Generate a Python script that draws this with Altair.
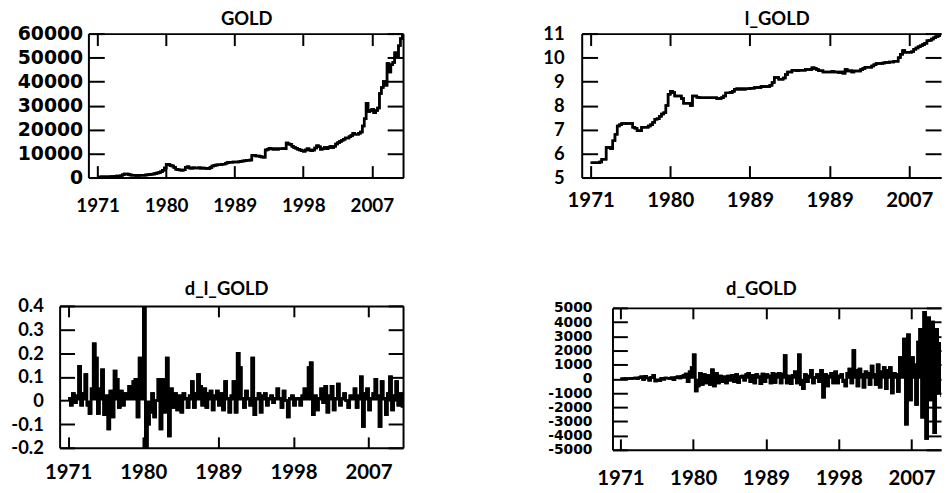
import altair as alt
import pandas as pd

# ---------------- data (quarterly observations, 1971Q1 .. 2011Q1) ----------------
START_YEAR = 1971.0
STEP = 0.25

gold = [
    270, 280, 290, 300, 320, 340, 380, 420, 450, 500, 600, 650,
    800, 1200, 1500, 1450, 1300, 1100, 1000, 950, 900, 850, 950, 1000,
    1000, 1100, 1200, 1300, 1400, 1500, 1700, 1900, 2100, 2400, 3000, 4000,
    5600, 5400, 5000, 4800, 4200, 3500, 3300, 3100, 3000, 3200, 4300, 4500,
    4000, 3900, 4100, 4000, 4000, 4100, 3900, 4000, 3900, 3800, 3800, 4200,
    4800, 5000, 5200, 5300, 5300, 5500, 5600, 6000, 6300, 6400, 6400, 6500,
    6500, 6500, 6600, 6800, 6900, 7000, 7200, 7200, 7300, 9300, 9300, 9000,
    9000, 8800, 8600, 8500, 11500, 11800, 12200, 12000, 11800, 12000, 11800, 12000,
    12000, 12100, 12000, 14400, 14000, 13800, 13000, 12500, 12200, 11800, 11500, 11200,
    11000, 11500, 12000, 11500, 11200, 11500, 12300, 13300, 12800, 11800, 12000, 12500,
    12000, 12500, 13000, 12500, 13000, 14000, 14500, 15000, 15500, 16000, 16500, 16500,
    17000, 17500, 18500, 18000, 18000, 18500, 19000, 21500, 24500, 31000, 27500, 28000,
    28500, 27000, 28000, 29000, 35000, 37500, 40000, 38500, 47500, 44000, 47000, 48000,
    52000, 50500, 55000, 58000, 60000,
]

l_gold = [
    5.62, 5.62, 5.62, 5.62, 5.65, 5.76, 5.76, 6.25, 6.25, 6.2, 6.53, 6.8,
    7.15, 7.2, 7.25, 7.25, 7.25, 7.25, 7.25, 7.1, 7.05, 6.95, 6.95, 7.1,
    7.1, 7.1, 7.15, 7.2, 7.3, 7.43, 7.45, 7.55, 7.65, 7.7, 8.0, 8.47,
    8.6, 8.55, 8.4, 8.4, 8.4, 8.3, 8.1, 8.1, 8.1, 8.0, 8.4, 8.4,
    8.35, 8.33, 8.33, 8.33, 8.33, 8.33, 8.33, 8.33, 8.33, 8.3, 8.3, 8.33,
    8.4, 8.53, 8.53, 8.55, 8.6, 8.68, 8.7, 8.68, 8.7, 8.68, 8.7, 8.7,
    8.72, 8.72, 8.75, 8.75, 8.75, 8.8, 8.78, 8.8, 8.8, 8.85, 8.96, 9.17,
    9.17, 9.1, 9.1, 9.15, 9.3, 9.4, 9.4, 9.47, 9.47, 9.45, 9.47, 9.47,
    9.47, 9.5, 9.5, 9.5, 9.58, 9.55, 9.5, 9.45, 9.45, 9.4, 9.4, 9.4,
    9.4, 9.42, 9.4, 9.4, 9.38, 9.4, 9.35, 9.5, 9.44, 9.45, 9.4, 9.44,
    9.44, 9.44, 9.5, 9.55, 9.6, 9.6, 9.6, 9.65, 9.7, 9.75, 9.75, 9.75,
    9.78, 9.8, 9.8, 9.82, 9.82, 9.85, 9.85, 10.0, 10.14, 10.3, 10.22, 10.22,
    10.22, 10.25, 10.35, 10.4, 10.45, 10.5, 10.55, 10.6, 10.7, 10.72, 10.78, 10.83,
    10.88, 10.92, 10.94, 10.97, 11.0,
]

d_l_gold = [
    0.01, -0.02, 0.03, -0.01, 0.02, 0.145, -0.02, 0.03, 0.11, -0.02, -0.055, 0.05,
    0.24, 0.18, -0.055, 0.05, 0.13, -0.06, 0.02, -0.12, 0.04, -0.07, 0.125, 0.09,
    -0.03, 0.04, -0.02, 0.03, 0.01, 0.06, 0.02, 0.08, 0.09, -0.07, 0.18, 0.15,
    0.42, -0.195, -0.1, -0.05, 0.03, -0.07, 0.0, 0.09, -0.12, 0.09, -0.05, 0.18,
    -0.15, 0.05, -0.03, 0.03, -0.04, 0.02, -0.05, 0.03, 0.01, -0.03, 0.02, 0.08,
    -0.03, 0.03, 0.11, 0.06, -0.02, 0.05, -0.03, 0.03, 0.04, -0.04, 0.02, 0.04,
    -0.02, 0.03, -0.04, 0.08, 0.01, -0.05, 0.02, 0.08, -0.05, 0.2, 0.14, 0.01,
    -0.03, 0.04, 0.01, -0.02, 0.18, -0.06, 0.01, 0.03, -0.05, 0.02, 0.03, -0.02,
    0.01, 0.02, -0.01, 0.01, 0.05, 0.01, -0.03, 0.04, 0.0, -0.07, 0.01, 0.02,
    -0.02, 0.01, 0.01, -0.02, 0.02, 0.05, 0.02, 0.14, 0.16, -0.06, 0.02, -0.04,
    0.01, 0.05, -0.01, 0.06, -0.05, 0.02, 0.06, -0.04, 0.01, 0.07, -0.02, 0.01,
    0.03, 0.0, -0.03, 0.02, 0.01, 0.05, -0.03, 0.02, 0.1, -0.11, 0.03, 0.05,
    -0.04, 0.01, 0.03, 0.09, 0.02, -0.11, 0.08, 0.01, -0.06, 0.03, 0.1, -0.04,
    0.02, 0.08, -0.02, 0.03, -0.03,
]

d_gold = [
    0, 10, 20, 10, 30, 20, 40, 60, 30, 80, 150, -40,
    180, 60, -100, 120, 250, -150, -80, -120, 40, -30, 60, 50,
    20, 80, -60, 100, 150, 60, 180, 250, 350, -200, 500, 800,
    1700, -850, -500, 400, -400, 300, -300, 250, -400, 650, -500, 400,
    -300, 200, -200, 150, -300, 200, -100, 250, -200, 300, -250, 150,
    200, -100, 300, 400, -200, 250, -300, 300, 150, -350, 350, -200,
    300, 200, -300, 400, -250, 300, 400, -300, 350, 1650, -300, 200,
    -350, 250, 500, -300, 1700, -400, -700, 300, -200, 200, 600, -300,
    100, 300, -200, 600, -1300, 300, -500, 200, 400, -300, 500, -300,
    200, 300, -200, -500, 400, 700, -300, 2000, 600, -500, 700, 300,
    -600, 500, 400, -400, 900, 300, -400, 1000, -600, 500, 800, -700,
    600, 800, -1000, 400, 300, -900, 1500, 1400, 2800, -3200, 3100, -1500,
    1500, 1000, -1800, 2600, 3500, -2700, 4700, -4200, 4300, -1500, 4000, -3800,
    3500, -1000, 2500, -1200, 1800,
]

years = [START_YEAR + STEP * i for i in range(len(gold))]

# ---------------- tick values and labels ----------------
year_ticks = [1971, 1980, 1989, 1998, 2007]
year_labels = ["1971", "1980", "1989", "1998", "2007"]
l_gold_year_labels = ["1971", "1980", "1989", "1989", "2007"]

gold_ticks = [0, 10000, 20000, 30000, 40000, 50000, 60000]
gold_tick_labels = ["0", "10000", "20000", "30000", "40000", "50000", "60000"]
l_gold_ticks = [5, 6, 7, 8, 9, 10, 11]
l_gold_tick_labels = ["5", "6", "7", "8", "9", "10", "11"]
d_l_ticks = [-0.2, -0.1, 0, 0.1, 0.2, 0.3, 0.4]
d_l_tick_labels = ["-0.2", "-0.1", "0", "0.1", "0.2", "0.3", "0.4"]
d_gold_ticks = [-5000, -4000, -3000, -2000, -1000, 0, 1000, 2000, 3000, 4000, 5000]
d_gold_tick_labels = ["-5000", "-4000", "-3000", "-2000", "-1000", "0",
                      "1000", "2000", "3000", "4000", "5000"]


def label_expr(values, labels):
    parts = [f"datum.value == {v} ? '{s}'" for v, s in zip(values, labels)]
    return " : ".join(parts) + " : ''"


FONT = "Lato"


def panel(values, title, xdom, ydom, w, h, yticks, ylabels, xlabels,
          ylab_font, ylab_size, ygap, xlab_size, xgap, yext, xext,
          xtick, ytick, right_domain, title_dx, title_offset, filled,
          inset=0):
    df = pd.DataFrame({"year": years, "value": values, "zero": [0] * len(values)})
    line = alt.Chart(df).mark_line(
        color="black", strokeWidth=2.5, interpolate="step-after", clip=True
    )
    if inset:
        xs = alt.Scale(domain=xdom, nice=False, zero=False, range=[inset, w])
    else:
        xs = alt.Scale(domain=xdom, nice=False, zero=False)
    ys = alt.Scale(domain=ydom, nice=False, zero=False)
    common = dict(grid=False, title=None, domainColor="black", domainWidth=2,
                  tickColor="black", tickWidth=2)
    bottom = alt.Axis(orient="bottom", values=year_ticks,
                      labelExpr=label_expr(year_ticks, xlabels),
                      tickSize={"expr": f"-{xtick}"}, labelPadding=xgap + xtick,
                      labelFont=FONT, labelFontWeight="bold", labelFontSize=xlab_size,
                      labelColor="black", labelFlush=False, labelOverlap=False,
                      minExtent=xext, maxExtent=xext, **common)
    left_kw = dict(minExtent=yext, maxExtent=yext)
    if inset:
        left_kw = dict(minExtent=0, maxExtent=200, offset=-inset)
    left = alt.Axis(orient="left", values=yticks,
                    labelExpr=label_expr(yticks, ylabels),
                    tickSize={"expr": f"-{ytick}"}, labelPadding=ygap + ytick,
                    labelFont=ylab_font, labelFontWeight="bold", labelFontSize=ylab_size,
                    labelColor="black", labelFlush=False, labelOverlap=False,
                    **left_kw, **common)
    top = alt.Axis(orient="top", values=year_ticks, labels=False,
                   tickSize={"expr": f"-{xtick}"}, minExtent=0, maxExtent=0, **common)
    right = alt.Axis(orient="right", values=yticks, labels=False, domain=right_domain,
                     tickSize={"expr": f"-{ytick}"}, minExtent=0, maxExtent=0, **common)
    layers = []
    if filled:
        area = alt.Chart(df).mark_area(
            color="black", interpolate="step-after", clip=True
        ).encode(
            x=alt.X("year:Q", scale=xs, axis=None),
            y=alt.Y("value:Q", scale=ys, axis=None),
            y2="zero:Q",
        )
        layers.append(area)
    layers.append(line.encode(x=alt.X("year:Q", scale=xs, axis=bottom),
                              y=alt.Y("value:Q", scale=ys, axis=left)))
    layers.append(line.encode(x=alt.X("year:Q", scale=xs, axis=top),
                              y=alt.Y("value:Q", scale=ys, axis=right)))
    return alt.layer(*layers).resolve_axis(x="independent", y="independent").properties(
        width=w, height=h,
        title=alt.TitleParams(title, font=FONT, fontSize=18.5, fontWeight="bold",
                              color="black", anchor="middle", dx=title_dx,
                              offset=title_offset),
    )


p1 = panel(gold, "GOLD", [1969.79, 2011.1], [0, 60000], 346, 145,
           gold_ticks, gold_tick_labels, year_labels,
           "DejaVu Sans", 19, 5.7, 19, 19.3, 0, 42, 12, 16, True, 15.5, -4, False,
           inset=29)
p2 = panel(l_gold, "l_GOLD", [1969.99, 2010.59], [5, 11], 362, 145,
           l_gold_ticks, l_gold_tick_labels, l_gold_year_labels,
           FONT, 18.5, 17.7, 20.5, 13.5, 50, 42, 12, 16, False, 16, -4, False)
p3 = panel(d_l_gold, "d_l_GOLD", [1969.98, 2011.13], [-0.2, 0.4], 346, 143,
           d_l_ticks, d_l_tick_labels, year_labels,
           FONT, 18.5, 16.4, 20.5, 14.8, 52, 42, 11, 15, True, -4.7, -1.7, True)
p4 = panel(d_gold, "d_GOLD", [1970.02, 2010.65], [-5000, 5000], 331, 143,
           d_gold_ticks, d_gold_tick_labels, year_labels,
           "DejaVu Sans", 14, 20.6, 20.5, 19, 81, 42, 11, 15, False, -15.5, 2.2, True)

chart = alt.concat(
    p1, p2, p3, p4, columns=2, align="none", bounds="full",
    spacing={"row": 61.3, "column": 129},
).properties(
    padding={"left": 0, "top": 0, "right": 0, "bottom": 0},
    background="white",
).configure_view(stroke=None)

chart.save("out.html", embed_options={"renderer": "svg", "actions": False})
